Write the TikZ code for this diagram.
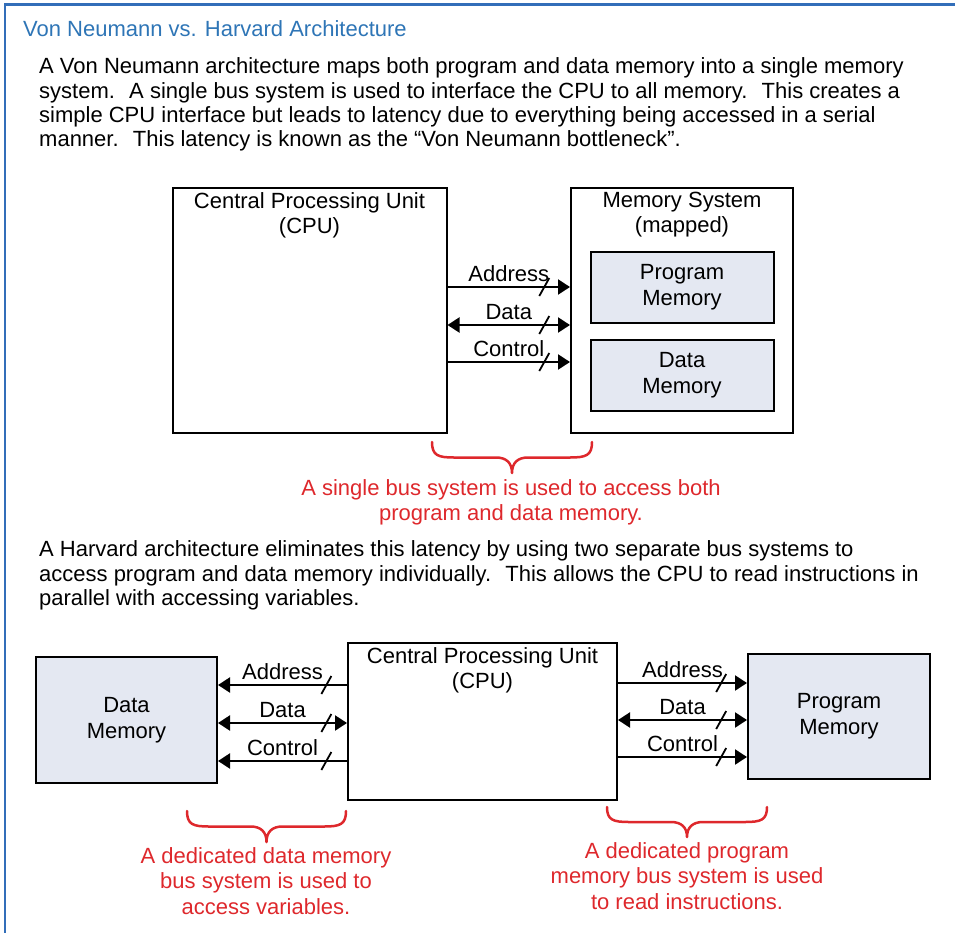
\documentclass[tikz,border=0pt]{standalone}
\usepackage{fontspec}
\setmainfont{Liberation Sans}
\usetikzlibrary{arrows.meta}
\definecolor{titleblue}{RGB}{46,117,182}
\definecolor{frameblue}{RGB}{50,110,185}
\definecolor{notered}{RGB}{222,40,44}
\definecolor{memfill}{RGB}{228,232,242}
\tikzset{
  txt/.style={font=\fontsize{22}{24.4}\selectfont, inner sep=0pt},
  box/.style={draw=black, line width=2pt, inner sep=0pt},
  membox/.style={box, fill=memfill, txt, align=center, font=\fontsize{22}{26}\selectfont},
  tipA/.tip={Triangle[length=12pt,width=15pt]},
  bus/.style={line width=2.2pt, -tipA},
  busboth/.style={line width=2.2pt, tipA-tipA},
  buslabel/.style={txt, anchor=base, yshift=6pt},
  slashmark/.pic={\draw[line width=1.8pt, -] (-5,9) -- (5,-9);},
  note/.style={txt, text=notered, align=center, font=\fontsize{22}{25.5}\selectfont},
  bracepath/.style={draw=notered, line width=2.5pt, line cap=round, line join=round},
}
\newcommand\redbrace[4]{% left x, right x, top y, depth
  \pgfmathsetmacro\bm{(#1+#2)/2}
  \pgfmathsetmacro\bh{#3+#4*0.5}
  \pgfmathsetmacro\bt{#3+#4}
  \draw[bracepath] (#1,#3) .. controls (#1,\bh-2) and (#1+6,\bh) .. (#1+22,\bh)
    -- (\bm-16,\bh) .. controls (\bm-6,\bh) and (\bm,\bh+5) .. (\bm,\bt)
    .. controls (\bm,\bh+5) and (\bm+6,\bh) .. (\bm+16,\bh)
    -- (#2-22,\bh) .. controls (#2-6,\bh) and (#2,\bh-2) .. (#2,#3);
}
\begin{document}
\begin{tikzpicture}[x=1pt,y=-1pt]
\useasboundingbox (0,0) rectangle (955,933);
% frame
\draw[frameblue, line width=2.5pt] (5.2,933) -- (5.2,4.5) -- (955,4.5);

% title and text
\node[txt, text=titleblue, anchor=base west] (title) at (23,36.7) {Von Neumann vs. Harvard Architecture};
\node[txt, anchor=north west, align=left] (p1) at (39,57.5) {A Von Neumann architecture maps both program and data memory into a single memory\\
system.~ A single bus system is used to interface the CPU to all memory.~ This creates a\\
simple CPU interface but leads to latency due to everything being accessed in a serial\\
manner.~ This latency is known as the “Von Neumann bottleneck”.};

% Von Neumann diagram
\node[box, minimum width=274, minimum height=245] (cpu1) at (309.5,310.5) {};
\node[txt, anchor=north, align=center, font=\fontsize{22}{25}\selectfont] (cpu1t) at ([yshift=-5pt]cpu1.north) {Central Processing Unit\\(CPU)};
\node[box, minimum width=222, minimum height=245] (mem) at (682,310.5) {};
\node[txt, anchor=north, align=center, font=\fontsize{22}{25}\selectfont] (memt) at ([yshift=-5pt]mem.north) {Memory System\\(mapped)};
\node[membox, minimum width=183, minimum height=71] (pm1) at (682,287.5) {Program\\Memory};
\node[membox, minimum width=183, minimum height=71] (dm1) at (682,375.5) {Data\\Memory};

\draw[bus] (cpu1.east |- 0,287) -- (mem.west |- 0,287)
  node[buslabel, midway] (la1) {Address} pic[pos=0.79] {slashmark};
\draw[busboth] (cpu1.east |- 0,325) -- (mem.west |- 0,325)
  node[buslabel, midway] (ld1) {Data} pic[pos=0.79] {slashmark};
\draw[bus] (cpu1.east |- 0,362) -- (mem.west |- 0,362)
  node[buslabel, midway] (lc1) {Control} pic[pos=0.79] {slashmark};

\redbrace{432}{592}{442}{31}
\node[note, anchor=north] (n1) at (511,479) {A single bus system is used to access both\\program and data memory.};

\node[txt, anchor=north west, align=left] (p2) at (39,540.5) {A Harvard architecture eliminates this latency by using two separate bus systems to\\
access program and data memory individually.~ This allows the CPU to read instructions in\\
parallel with accessing variables.};

% Harvard diagram
\node[membox, minimum width=181, minimum height=126] (dm2) at (126.5,720) {Data\\Memory};
\node[box, minimum width=269, minimum height=157] (cpu2) at (482.5,721.5) {};
\node[txt, anchor=north, align=center, font=\fontsize{22}{25}\selectfont] (cpu2t) at ([yshift=-5pt]cpu2.north) {Central Processing Unit\\(CPU)};
\node[membox, minimum width=182, minimum height=125] (pm2) at (839,716.5) {Program\\Memory};

\draw[bus] (cpu2.west |- 0,685) -- (dm2.east |- 0,685)
  node[buslabel, midway] (la2) {Address} pic[pos=0.16] {slashmark};
\draw[busboth] (cpu2.west |- 0,723) -- (dm2.east |- 0,723)
  node[buslabel, midway] (ld2) {Data} pic[pos=0.16] {slashmark};
\draw[bus] (cpu2.west |- 0,761) -- (dm2.east |- 0,761)
  node[buslabel, midway] (lc2) {Control} pic[pos=0.16] {slashmark};

\draw[bus] (cpu2.east |- 0,683) -- (pm2.west |- 0,683)
  node[buslabel, midway] (la3) {Address} pic[pos=0.8] {slashmark};
\draw[busboth] (cpu2.east |- 0,720) -- (pm2.west |- 0,720)
  node[buslabel, midway] (ld3) {Data} pic[pos=0.8] {slashmark};
\draw[bus] (cpu2.east |- 0,757) -- (pm2.west |- 0,757)
  node[buslabel, midway] (lc3) {Control} pic[pos=0.8] {slashmark};

\redbrace{187}{346}{811}{31}
\node[note, anchor=north] (n2) at (266,847) {A dedicated data memory\\bus system is used to\\access variables.};
\redbrace{607}{767}{807}{30}
\node[note, anchor=north] (n3) at (687,842) {A dedicated program\\memory bus system is used\\to read instructions.};
\end{tikzpicture}
\end{document}
